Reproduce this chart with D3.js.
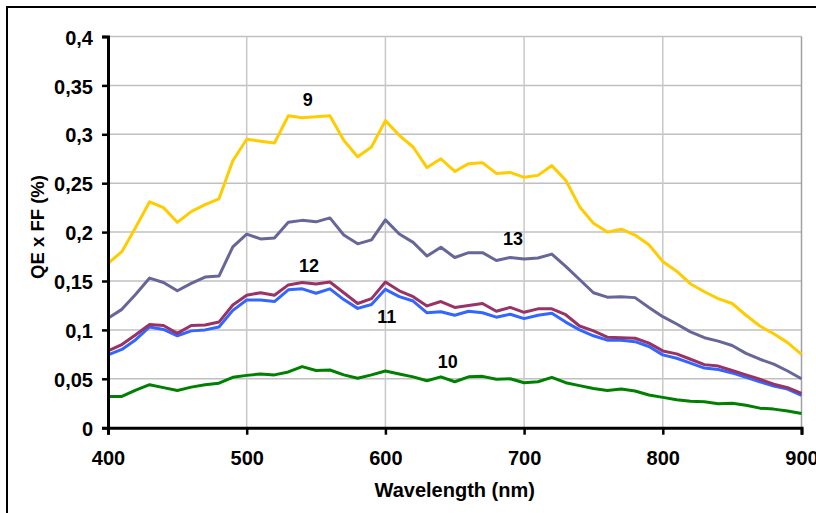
<!DOCTYPE html>
<html>
<head>
<meta charset="utf-8">
<script src="https://cdn.jsdelivr.net/npm/d3@7"></script>
<style>
    body { margin: 0; background: #fff; }
    text { font-family: "Liberation Sans", Arial, sans-serif; font-weight: bold; fill: #000; }
</style>
</head>
<body>
<div id="chart"></div>
<script>
// wavelengths (nm)
let wavelengths = [400, 410, 420, 430, 440, 450, 460, 470, 480, 490, 500, 510, 520, 530, 540, 550, 560,
    570, 580, 590, 600, 610, 620, 630, 640, 650, 660, 670, 680, 690, 700, 710, 720, 730,
    740, 750, 760, 770, 780, 790, 800, 810, 820, 830, 840, 850, 860, 870, 880, 890, 900];

// QE x FF (%) per pixel
let qe9 = [0.168, 0.180, 0.205, 0.231, 0.225, 0.210, 0.221, 0.228, 0.234, 0.273, 0.295, 0.293, 0.291, 0.319, 0.317, 0.318, 0.319,
    0.294, 0.277, 0.287, 0.314, 0.299, 0.287, 0.266, 0.275, 0.262, 0.270, 0.271, 0.260, 0.261, 0.256, 0.258, 0.268, 0.253,
    0.226, 0.209, 0.200, 0.203, 0.197, 0.187, 0.170, 0.160, 0.147, 0.139, 0.132, 0.127, 0.115, 0.104, 0.096, 0.087, 0.075];
let qe10 = [0.032, 0.032, 0.0385, 0.044, 0.041, 0.038, 0.0415, 0.044, 0.0455, 0.0515, 0.0535, 0.055, 0.054, 0.057, 0.0625, 0.0585, 0.059,
    0.054, 0.0505, 0.054, 0.058, 0.055, 0.052, 0.048, 0.052, 0.047, 0.052, 0.0525, 0.0495, 0.050, 0.046, 0.047, 0.0515, 0.046,
    0.043, 0.040, 0.038, 0.0395, 0.0375, 0.0335, 0.031, 0.0285, 0.027, 0.0265, 0.0245, 0.025, 0.023, 0.020, 0.019, 0.017, 0.0145];
let qe11 = [0.0745, 0.080, 0.090, 0.103, 0.1005, 0.094, 0.099, 0.100, 0.103, 0.120, 0.1305, 0.1305, 0.129, 0.141, 0.142, 0.1375, 0.142,
    0.131, 0.122, 0.126, 0.1415, 0.134, 0.1295, 0.1175, 0.1185, 0.115, 0.119, 0.1175, 0.113, 0.116, 0.1115, 0.115, 0.117, 0.108,
    0.100, 0.094, 0.0895, 0.0895, 0.088, 0.083, 0.0745, 0.071, 0.066, 0.061, 0.0595, 0.056, 0.0515, 0.047, 0.0425, 0.0395, 0.033];
let qe12 = [0.0785, 0.085, 0.095, 0.1055, 0.1045, 0.0965, 0.1045, 0.105, 0.108, 0.1255, 0.1355, 0.138, 0.1355, 0.146, 0.1485, 0.147, 0.149,
    0.138, 0.127, 0.132, 0.149, 0.140, 0.134, 0.1245, 0.129, 0.123, 0.125, 0.127, 0.119, 0.123, 0.118, 0.1215, 0.1215, 0.1155,
    0.104, 0.099, 0.0925, 0.092, 0.0915, 0.0865, 0.0785, 0.0755, 0.070, 0.0645, 0.063, 0.0585, 0.054, 0.0495, 0.0445, 0.041, 0.035];
let qe13 = [0.112, 0.121, 0.1365, 0.153, 0.1485, 0.140, 0.1475, 0.154, 0.155, 0.185, 0.198, 0.193, 0.194, 0.210, 0.212, 0.2105, 0.2145,
    0.197, 0.188, 0.192, 0.2125, 0.198, 0.1895, 0.1755, 0.1845, 0.174, 0.179, 0.179, 0.171, 0.174, 0.1725, 0.1735, 0.1775, 0.165,
    0.1515, 0.138, 0.1335, 0.134, 0.133, 0.123, 0.1135, 0.106, 0.098, 0.092, 0.0885, 0.084, 0.076, 0.070, 0.065, 0.058, 0.050];

let seriesNames = ['9', '10', '11', '12', '13'];
let seriesColors = ['#ffcc00', '#008000', '#3366ff', '#993366', '#666699'];

// curve labels, placed in data coordinates
let labelNames = ['9', '12', '13', '11', '10'];
let labelWl = [544, 545, 692, 601, 645];
let labelVal = [0.336, 0.166, 0.193, 0.1135, 0.068];

let xTicks = [400, 500, 600, 700, 800, 900];
let yTicks = [0, 0.05, 0.1, 0.15, 0.2, 0.25, 0.3, 0.35, 0.4];

let width = 816, height = 513;
let plot = {left: 108, right: 801.5, top: 36.5, bottom: 427.7};

let svg = d3.select('#chart').append('svg')
    .attr('width', width)
    .attr('height', height);

// outer chart frame (runs off the right and bottom of the picture)
svg.append('rect')
    .attr('x', 7).attr('y', 7)
    .attr('width', 830).attr('height', 530)
    .attr('fill', '#fff')
    .attr('stroke', '#000')
    .attr('stroke-width', 2);

let x = d3.scaleLinear().domain([400, 900]).range([plot.left, plot.right]);
let y = d3.scaleLinear().domain([0, 0.4]).range([plot.bottom, plot.top]);

// grid
let grid = svg.append('g').attr('class', 'grid');
grid.selectAll('.hgrid')
    .data(yTicks.slice(1))
    .enter().append('line')
    .attr('x1', plot.left).attr('x2', plot.right)
    .attr('y1', d => y(d)).attr('y2', d => y(d))
    .attr('stroke', '#c0c0c0')
    .attr('stroke-width', 1.5);
grid.selectAll('.vgrid')
    .data(xTicks.slice(1))
    .enter().append('line')
    .attr('y1', plot.top).attr('y2', plot.bottom)
    .attr('x1', d => x(d)).attr('x2', d => x(d))
    .attr('stroke', d => d === 900 ? '#a0a0a0' : '#c8c8c8')
    .attr('stroke-width', 1.5);

// series
let line = d3.line()
    .x((d, i) => x(wavelengths[i]))
    .y(d => y(d));

let allSeries = [qe9, qe10, qe11, qe12, qe13];
let drawOrder = [0, 4, 2, 3, 1];
drawOrder.forEach(k => {
    svg.append('path')
        .datum(allSeries[k])
        .attr('class', 'series s' + seriesNames[k])
        .attr('fill', 'none')
        .attr('stroke', seriesColors[k])
        .attr('stroke-width', 3)
        .attr('stroke-linejoin', 'round')
        .attr('d', line);
});

// axes
let fmt = d => String(+d.toFixed(2)).replace('.', ',');

let xAxis = d3.axisBottom(x).tickValues(xTicks).tickSize(7).tickFormat(d => d);
let xg = svg.append('g')
    .attr('transform', `translate(0, ${plot.bottom})`)
    .call(xAxis);
xg.select('.domain').attr('stroke', '#000').attr('stroke-width', 3);
xg.selectAll('.tick line').attr('stroke', '#000').attr('stroke-width', 2.5);
xg.selectAll('.tick text')
    .attr('y', 37.5).attr('dy', null)
    .style('font-size', '20px');

let yAxis = d3.axisLeft(y).tickValues(yTicks).tickSize(6).tickFormat(fmt);
let yg = svg.append('g')
    .attr('transform', `translate(${plot.left}, 0)`)
    .call(yAxis);
yg.select('.domain').attr('stroke', '#000').attr('stroke-width', 3);
yg.selectAll('.tick line').attr('stroke', '#000').attr('stroke-width', 2.5);
yg.selectAll('.tick text')
    .attr('x', -15).attr('dy', '0.38em')
    .style('font-size', '20px');

// titles
svg.append('text')
    .attr('x', (plot.left + plot.right) / 2)
    .attr('y', 497)
    .attr('text-anchor', 'middle')
    .style('font-size', '20px')
    .text('Wavelength (nm)');

svg.append('text')
    .attr('transform', `translate(43.5, 227) rotate(-90)`)
    .attr('text-anchor', 'middle')
    .style('font-size', '18.5px')
    .text('QE x FF (%)');

// curve labels
svg.selectAll('.curve-label')
    .data(labelNames)
    .enter().append('text')
    .attr('class', 'curve-label')
    .attr('x', (d, i) => x(labelWl[i]))
    .attr('y', (d, i) => y(labelVal[i]))
    .attr('dy', '0.36em')
    .attr('text-anchor', 'middle')
    .style('font-size', '18px')
    .text(d => d);
</script>
</body>
</html>
